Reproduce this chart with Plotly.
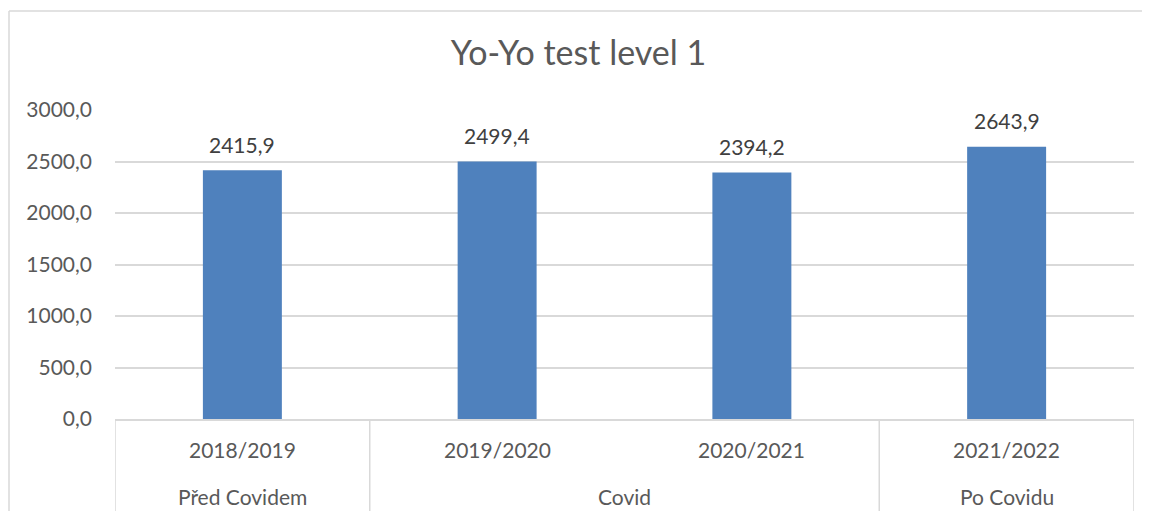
import plotly.graph_objects as go

years = ["2018/2019", "2019/2020", "2020/2021", "2021/2022"]
values = [2415.9, 2499.4, 2394.2, 2643.9]
groups = ["Před Covidem", "Covid", "Po Covidu"]
group_spans = [(0, 0), (1, 2), (3, 3)]
y_ticks = [0, 500, 1000, 1500, 2000, 2500, 3000]

FONT = "Lato"
GRID = "#d9d9d9"
TXT = "#595959"
BAR = "#4F81BD"

W, H = 1136, 503
ML, MR, MT, MB = 107, 10, 102, 92
PW, PH = W - ML - MR, H - MT - MB

fig = go.Figure()
fig.add_trace(go.Bar(x=list(range(len(years))), y=values, marker=dict(color=BAR, line=dict(width=0)),
                     width=0.31, hoverinfo="skip"))

annotations = []
for i, v in enumerate(values):
    annotations.append(dict(x=i, y=v, xref="x", yref="y", text=f"{v:.1f}".replace(".", ","),
                            showarrow=False, yshift=26, yanchor="middle",
                            font=dict(family=FONT, size=21, color="#404040")))
for i, yr in enumerate(years):
    annotations.append(dict(x=i, y=0, xref="x", yref="paper", text=yr, showarrow=False,
                            yshift=-30, yanchor="middle", font=dict(family=FONT, size=21, color=TXT)))
for g, (a, b) in zip(groups, group_spans):
    annotations.append(dict(x=(a + b) / 2, y=0, xref="x", yref="paper", text=g, showarrow=False,
                            yshift=-77, yanchor="middle", font=dict(family=FONT, size=21, color=TXT)))

shapes = []
seps = [-0.5] + [b + 0.5 for (a, b) in group_spans]
for s in seps:
    shapes.append(dict(type="line", xref="x", yref="paper", x0=s, x1=s, y0=0, y1=-92 / PH,
                       line=dict(color=GRID, width=1.5)))
# chart border (top and left edges visible)
bx = (1 - ML) / PW
by = 1 + (MT - 3) / PH
shapes.append(dict(type="line", xref="paper", yref="paper", x0=bx, x1=(W - 2 - ML) / PW, y0=by, y1=by,
                   line=dict(color=GRID, width=1.5)))
shapes.append(dict(type="line", xref="paper", yref="paper", x0=bx, x1=bx, y0=by, y1=-MB / PH,
                   line=dict(color=GRID, width=1.5)))

fig.update_layout(
    width=W, height=H,
    margin=dict(l=ML, r=MR, t=MT, b=MB),
    paper_bgcolor="white", plot_bgcolor="white",
    showlegend=False,
    title=dict(text="Yo-Yo test level 1", xref="container", yref="container", x=570.5 / W, y=1 - 45 / H,
               xanchor="center", yanchor="middle", font=dict(family=FONT, size=34, color=TXT)),
    xaxis=dict(range=[-0.5, len(years) - 0.5], showticklabels=False, showgrid=False, zeroline=False,
               showline=True, linecolor=GRID, linewidth=1.5, ticks=""),
    yaxis=dict(range=[0, 3000], tickvals=y_ticks, ticktext=[f"{t:.1f}".replace(".", ",") for t in y_ticks],
               showgrid=True, gridcolor=GRID,
               gridwidth=1.5, zeroline=False, showline=False, ticks="", ticklabelstandoff=22,
               tickfont=dict(family=FONT, size=21, color=TXT)),
    annotations=annotations,
    shapes=shapes,
)
fig.write_html("out.html", config={"displayModeBar": False})
